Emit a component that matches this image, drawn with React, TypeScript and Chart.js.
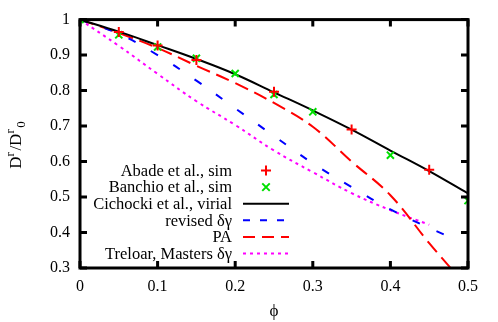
import React, { useEffect, useRef } from "react";
import { Chart, registerables } from "chart.js";

Chart.register(...registerables);

// ---- data ----
const phiAbade = [0, 0.05, 0.1, 0.15, 0.25, 0.35, 0.45];
const dAbade = [1.0, 0.965, 0.927, 0.886, 0.797, 0.69, 0.577];

const phiBanchio = [0, 0.05, 0.1, 0.15, 0.2, 0.25, 0.3, 0.4, 0.5];
const dBanchio = [1.0, 0.957, 0.923, 0.891, 0.848, 0.789, 0.74, 0.618, 0.49];

const phiVirial = [0, 0.05, 0.1, 0.15, 0.2, 0.25, 0.3, 0.35, 0.4, 0.45, 0.5];
const dVirial = [1, 0.966, 0.928, 0.889, 0.846, 0.795, 0.744, 0.69, 0.631, 0.573, 0.51];

const phiRevised = [0, 0.05, 0.1, 0.15, 0.2, 0.25, 0.3, 0.35, 0.4, 0.45, 0.49];
const dRevised = [1, 0.96, 0.9, 0.828, 0.75, 0.672, 0.595, 0.528, 0.465, 0.413, 0.375];

const phiPA = [0, 0.05, 0.1, 0.15, 0.2, 0.25, 0.3, 0.35, 0.4, 0.45, 0.48];
const dPA = [1, 0.962, 0.92, 0.87, 0.821, 0.765, 0.698, 0.6, 0.505, 0.37, 0.294];

const phiTreloar = [0, 0.05, 0.1, 0.15, 0.2, 0.25, 0.3, 0.35, 0.4, 0.45];
const dTreloar = [1, 0.926, 0.847, 0.77, 0.703, 0.631, 0.57, 0.511, 0.463, 0.422];

const seriesLabels = [
  "Abade et al., sim",
  "Banchio et al., sim",
  "Cichocki et al., virial",
  "revised δγ",
  "PA",
  "Treloar, Masters δγ",
];

const xTickValues = [0, 0.1, 0.2, 0.3, 0.4, 0.5];
const xTickLabels = ["0", "0.1", "0.2", "0.3", "0.4", "0.5"];
const yTickValues = [0.3, 0.4, 0.5, 0.6, 0.7, 0.8, 0.9, 1.0];
const yTickLabels = ["0.3", "0.4", "0.5", "0.6", "0.7", "0.8", "0.9", "1"];

const xTitle = "ϕ";

const FONT = "Liberation Serif";

const pts = (xs: number[], ys: number[]) => xs.map((x, i) => ({ x, y: ys[i] }));

const decorPlugin = {
  id: "decor",
  afterDatasetsDraw(chart: any) {
    const { ctx, chartArea: a, scales } = chart;
    const xs = scales.x;
    const ys = scales.y;
    ctx.save();
    // frame
    ctx.strokeStyle = "#000";
    ctx.lineWidth = 3;
    ctx.strokeRect(a.left, a.top, a.right - a.left, a.bottom - a.top);
    // inward ticks
    const tl = 7;
    ctx.beginPath();
    xTickValues.forEach((v) => {
      const px = xs.getPixelForValue(v);
      ctx.moveTo(px, a.bottom);
      ctx.lineTo(px, a.bottom - tl);
      ctx.moveTo(px, a.top);
      ctx.lineTo(px, a.top + tl);
    });
    yTickValues.forEach((v) => {
      const py = ys.getPixelForValue(v);
      ctx.moveTo(a.left, py);
      ctx.lineTo(a.left + tl, py);
      ctx.moveTo(a.right, py);
      ctx.lineTo(a.right - tl, py);
    });
    ctx.stroke();

    // legend
    const ds = chart.data.datasets;
    const textX = a.left + 152;
    const sx0 = a.left + 163;
    const sx1 = a.left + 209;
    const y0 = a.bottom - 97.5;
    const dy = 16.6;
    ctx.font = `16.5px "${FONT}"`;
    ctx.textAlign = "right";
    ctx.textBaseline = "middle";
    ds.forEach((d: any, i: number) => {
      const y = y0 + i * dy;
      ctx.fillStyle = "#000";
      ctx.fillText(d.label, textX, y + 1);
      ctx.strokeStyle = d.borderColor;
      ctx.lineWidth = 2;
      if (d.showLine === false) {
        const cx = (sx0 + sx1) / 2;
        const r = 5;
        ctx.setLineDash([]);
        ctx.beginPath();
        if (d.pointStyle === "cross") {
          ctx.moveTo(cx - r, y);
          ctx.lineTo(cx + r, y);
          ctx.moveTo(cx, y - r);
          ctx.lineTo(cx, y + r);
        } else {
          const q = r * 0.75;
          ctx.moveTo(cx - q, y - q);
          ctx.lineTo(cx + q, y + q);
          ctx.moveTo(cx - q, y + q);
          ctx.lineTo(cx + q, y - q);
        }
        ctx.stroke();
      } else {
        ctx.setLineDash(d.legendDash || []);
        ctx.beginPath();
        ctx.moveTo(sx0, y);
        ctx.lineTo(sx1, y);
        ctx.stroke();
        ctx.setLineDash([]);
      }
    });

    // y title with super/subscripts
    ctx.translate(17, 145);
    ctx.rotate(-Math.PI / 2);
    ctx.fillStyle = "#000";
    ctx.textAlign = "left";
    ctx.textBaseline = "middle";
    const big = `17px "${FONT}"`;
    const small = `13px "${FONT}"`;
    ctx.font = big;
    const wD = ctx.measureText("D").width;
    const wSD = ctx.measureText("/D").width;
    ctx.font = small;
    const wr = ctx.measureText("r").width;
    const w0 = ctx.measureText("0").width;
    const gap = 1.5;
    const total = wD + wr + gap + wSD + wr + gap + w0;
    let x = -total / 2;
    ctx.font = big;
    ctx.fillText("D", x, 0);
    x += wD;
    ctx.font = small;
    ctx.fillText("r", x, -6);
    x += wr + gap;
    ctx.font = big;
    ctx.fillText("/D", x, 0);
    x += wSD;
    ctx.font = small;
    ctx.fillText("r", x, -6);
    x += wr + gap;
    ctx.fillText("0", x, 5);
    ctx.restore();
  },
};

export default function App() {
  const ref = useRef<HTMLCanvasElement>(null);
  useEffect(() => {
    if (!ref.current) return;
    const chart = new Chart(ref.current, {
      type: "scatter",
      data: {
        datasets: [
          {
            label: seriesLabels[0],
            data: pts(phiAbade, dAbade),
            showLine: false,
            pointStyle: "cross",
            pointRadius: 5,
            pointBorderWidth: 2,
            borderColor: "#ff0000",
            backgroundColor: "#ff0000",
            order: 0,
          },
          {
            label: seriesLabels[1],
            data: pts(phiBanchio, dBanchio),
            showLine: false,
            pointStyle: "crossRot",
            pointRadius: 5,
            pointBorderWidth: 2,
            borderColor: "#00e000",
            backgroundColor: "#00e000",
            order: 1,
          },
          {
            label: seriesLabels[2],
            data: pts(phiVirial, dVirial),
            showLine: true,
            pointRadius: 0,
            borderColor: "#000000",
            borderWidth: 2,
            tension: 0.4,
            order: 2,
          },
          {
            label: seriesLabels[3],
            data: pts(phiRevised, dRevised),
            showLine: true,
            pointRadius: 0,
            borderColor: "#0000ff",
            borderWidth: 2,
            borderDash: [8, 18],
            legendDash: [7, 10],
            tension: 0.4,
            order: 3,
          },
          {
            label: seriesLabels[4],
            data: pts(phiPA, dPA),
            showLine: true,
            pointRadius: 0,
            borderColor: "#ff0000",
            borderWidth: 2,
            borderDash: [14, 7],
            legendDash: [12, 7],
            tension: 0.4,
            order: 4,
          },
          {
            label: seriesLabels[5],
            data: pts(phiTreloar, dTreloar),
            showLine: true,
            pointRadius: 0,
            borderColor: "#ff00ff",
            borderWidth: 2,
            borderDash: [3, 4],
            legendDash: [3, 4],
            tension: 0.4,
            order: 5,
          },
        ] as any,
      },
      options: {
        animation: false,
        responsive: false,
        maintainAspectRatio: false,
        layout: { padding: { left: 0, top: 17, right: 30, bottom: 0 } },
        plugins: {
          legend: { display: false },
          tooltip: { enabled: false },
          title: { display: false },
        },
        scales: {
          x: {
            type: "linear",
            min: 0,
            max: 0.5,
            grid: { display: false, drawTicks: false },
            border: { display: false },
            afterBuildTicks: (s: any) => {
              s.ticks = xTickValues.map((v) => ({ value: v }));
            },
            afterFit: (s: any) => {
              s.height = 54;
            },
            ticks: {
              padding: 9,
              color: "#000",
              font: { family: FONT, size: 16 },
              maxRotation: 0,
              callback: (_v: any, i: number) => xTickLabels[i],
            },
            title: {
              display: true,
              text: xTitle,
              color: "#000",
              font: { family: FONT, size: 17 },
              padding: { top: 6, bottom: 0 },
            },
          },
          y: {
            type: "linear",
            min: 0.3,
            max: 1.0,
            grid: { display: false, drawTicks: false },
            border: { display: false },
            afterBuildTicks: (s: any) => {
              s.ticks = yTickValues.map((v) => ({ value: v }));
            },
            afterFit: (s: any) => {
              s.width = 80;
            },
            ticks: {
              padding: 10,
              color: "#000",
              font: { family: FONT, size: 16 },
              callback: (_v: any, i: number) => yTickLabels[i],
            },
          },
        },
      },
      plugins: [decorPlugin],
    } as any);
    return () => chart.destroy();
  }, []);
  return (
    <div style={{ position: "fixed", left: 0, top: 0, width: 498, height: 322, background: "#fff" }}>
      <canvas ref={ref} width={498} height={322} style={{ width: 498, height: 322 }} />
    </div>
  );
}
